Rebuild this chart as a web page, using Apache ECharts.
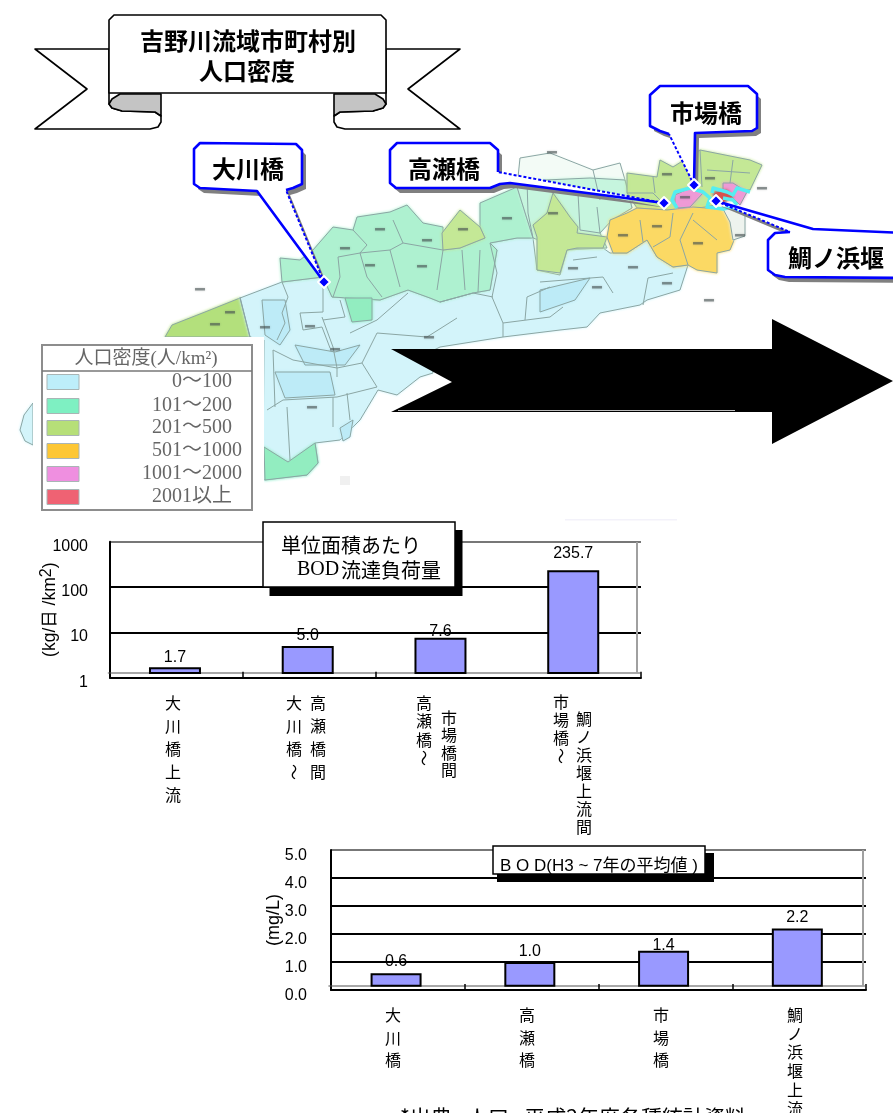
<!DOCTYPE html>
<html lang="ja">
<head>
<meta charset="utf-8">
<title>吉野川流域市町村別人口密度</title>
<script src="https://cdn.jsdelivr.net/npm/echarts@6/dist/echarts.min.js"></script>
<style>
html,body{margin:0;padding:0;background:#fff}
#chart{width:893px;height:1113px}
</style>
</head>
<body>
<div id="chart"></div>
<script>
// 単位面積あたり BOD 流達負荷量
const loadCategories = ['大川橋上流', '大川橋～高瀬橋間', '高瀬橋～市場橋間', '市場橋～鯛ノ浜堰上流間'];
const loadValues = [1.7, 5.0, 7.6, 235.7];
const loadLabelGaps = [2, 2, -2, 9];

// BOD (H3~7年の平均値)
const bodCategories = ['大川橋', '高瀬橋', '市場橋', '鯛ノ浜堰上流'];
const bodValues = [0.6, 1.0, 1.4, 2.2];
const bodLabelGaps = [4, 2, -3, 3];

// 人口密度の凡例
const densityClasses = ['0～100', '101～200', '201～500', '501～1000', '1001～2000', '2001以上'];

const GOTHIC = '"Liberation Sans","Noto Sans CJK JP",sans-serif';
const MINCHO = '"Liberation Serif","Noto Sans CJK JP",serif';
const CJK = '"Noto Sans CJK JP",sans-serif';
const BLUE = '#0000ff';
const SHADOW = '#808080';

const COLOR = {
  low: '#d3f4fa', lowDeep: '#bdebf7', mint: '#aef1d0', mintDeep: '#92edc0', mintPale: '#c6f5de',
  north: '#f3fbf6', olive: '#c4e896', oliveDeep: '#b3e07c', yellow: '#fbd964', pink: '#ee9ad6',
  red: '#d9534f', river: '#55eef0', border: '#8ba6a4'
};

const g = [];
const poly = (points, fill, z, stroke, lineWidth, soft) => g.push({
  type: 'polygon', silent: true, z: z || 1, shape: { points },
  style: {
    fill, stroke: stroke || null, lineWidth: lineWidth || 0, lineJoin: 'round',
    shadowBlur: soft || 0, shadowColor: soft ? fill : null
  }
});
const line = (points, stroke, lineWidth, z, lineDash) => g.push({
  type: 'polyline', silent: true, z: z || 1, shape: { points },
  style: { stroke, lineWidth, fill: null, lineDash: lineDash || null, lineJoin: 'round' }
});
const box = (x, y, width, height, fill, z, stroke, lineWidth, soft) => g.push({
  type: 'rect', silent: true, z: z || 1, shape: { x, y, width, height },
  style: {
    fill, stroke: stroke || null, lineWidth: lineWidth || 0,
    shadowBlur: soft || 0, shadowColor: soft ? fill : null
  }
});
const text = (value, x, y, font, opts) => g.push({
  type: 'text', silent: true, z: (opts && opts.z) || 60, rotation: (opts && opts.rotation) || 0,
  x, y,
  style: {
    text: value, font, fill: (opts && opts.fill) || '#000',
    align: (opts && opts.align) || 'center', verticalAlign: (opts && opts.verticalAlign) || 'middle'
  }
});

// 流域図: 市町村を人口密度の階級で塗り分ける
const mapAreas = [
  [COLOR.low, [[20,430],[24,415],[33,403],[33,445],[25,441]]],
  [COLOR.oliveDeep, [[165,337],[172,325],[205,312],[240,298],[250,337]]],
  [COLOR.low, [[240,298],[282,282],[323,277],[332,297],[380,300],[408,290],[430,298],[440,302],[473,293],[490,290],[497,250],[490,243],[517,238],[533,238],[537,270],[560,275],[567,250],[603,248],[610,253],[627,253],[647,240],[657,257],[673,267],[688,265],[680,290],[647,300],[640,305],[600,313],[587,327],[560,330],[503,337],[440,347],[430,352],[433,373],[420,377],[397,395],[378,390],[360,420],[340,440],[315,443],[318,463],[307,475],[263,480],[264,340],[250,337]]],
  [COLOR.lowDeep, [[262,300],[285,300],[290,330],[280,345],[265,335]]],
  [COLOR.lowDeep, [[295,345],[335,352],[360,345],[345,365],[305,365]]],
  [COLOR.lowDeep, [[275,372],[330,372],[335,395],[285,398]]],
  [COLOR.lowDeep, [[540,290],[590,278],[575,300],[540,312]]],
  [COLOR.lowDeep, [[340,428],[353,420],[350,437],[343,441]]],
  [COLOR.mintDeep, [[264,447],[288,462],[315,443],[318,463],[307,475],[265,480]]],
  [COLOR.north, [[517,187],[520,158],[550,153],[593,170],[620,163],[628,190],[632,208],[612,220],[540,215]]],
  [COLOR.mint, [[282,282],[280,258],[300,260],[313,250],[333,227],[353,230],[357,217],[390,212],[407,205],[423,223],[443,227],[443,250],[460,248],[485,238],[480,227],[480,203],[517,187],[533,238],[517,238],[490,243],[497,250],[490,290],[473,293],[440,302],[430,298],[408,290],[380,300],[332,297],[323,277]]],
  [COLOR.mintDeep, [[345,298],[372,298],[372,320],[352,322]]],
  [COLOR.mintPale, [[517,187],[545,180],[590,178],[625,180],[632,208],[612,220],[600,233],[607,248],[580,248],[567,250],[533,238]]],
  [COLOR.olive, [[442,233],[460,210],[480,227],[485,238],[460,248],[443,250]]],
  [COLOR.olive, [[553,193],[563,207],[570,217],[578,227],[577,233],[607,237],[603,248],[577,248],[567,250],[560,273],[537,270],[537,237],[533,225],[547,213]]],
  [COLOR.olive, [[627,173],[657,177],[660,160],[673,167],[700,150],[750,160],[762,165],[750,190],[730,190],[715,205],[688,210],[667,210],[637,208],[627,193]]],
  [COLOR.yellow, [[610,220],[627,213],[637,208],[667,210],[693,207],[733,210],[737,233],[730,250],[717,253],[717,273],[697,270],[688,265],[673,267],[657,257],[647,240],[627,253],[613,253],[607,237]]],
  ['#eef3ee', [[722,207],[745,212],[745,236],[733,240],[730,222]]],
  [COLOR.pink, [[675,195],[690,188],[703,193],[690,207],[678,208],[675,203]]],
  [COLOR.pink, [[723,183],[733,183],[747,192],[740,205],[733,198],[723,190]]],
  [COLOR.red, [[715,192],[727,190],[733,197],[723,203],[713,195]]]
];
mapAreas.forEach(([fill, pts]) => poly(pts, fill, 1, COLOR.border, 1, 3));

// 市町村界
const mapBorders = [
  [[338,257],[360,253],[390,250],[403,243],[393,220]], [[353,230],[367,245],[360,253]],
  [[338,257],[340,277],[333,297]], [[360,253],[367,277],[382,297]], [[403,243],[443,250]],
  [[390,250],[400,287]], [[443,250],[437,290]],
  [[282,282],[288,297],[282,313],[285,323],[277,340]], [[240,297],[250,337]],
  [[300,313],[323,312],[323,287]], [[300,313],[303,330],[322,327],[330,348]],
  [[323,320],[345,317],[340,300]], [[350,333],[377,320],[408,293]],
  [[273,350],[293,360],[337,368],[362,363],[377,387]], [[377,387],[337,397],[283,400],[267,410]],
  [[337,368],[337,377]], [[273,350],[275,407]], [[333,397],[333,427]], [[347,393],[350,420]],
  [[287,407],[290,460]], [[322,317],[333,347],[337,368]], [[377,333],[362,363]],
  [[377,333],[427,337],[457,318]], [[440,302],[473,293],[493,297]],
  [[490,243],[497,273],[492,297],[503,323],[503,337]], [[503,323],[550,317],[563,307]],
  [[550,287],[527,297],[525,320]], [[540,282],[603,277],[613,293]], [[573,260],[597,257]],
  [[643,305],[648,278],[673,273]], [[527,180],[528,213],[533,238]],
  [[578,193],[580,230],[600,233],[597,207]], [[593,170],[600,200]], [[640,220],[643,242]],
  [[673,213],[670,237],[653,247]], [[693,213],[680,240],[688,265]], [[693,220],[717,240]],
  [[700,150],[702,187]], [[707,170],[750,173]], [[733,160],[730,183]], [[653,177],[655,193]],
  [[627,193],[653,193],[667,207]], [[462,250],[465,290]], [[480,250],[478,292]]
];
mapBorders.forEach(pts => line(pts, COLOR.border, 1, 2));

// 地名の小さな注記
const placeNotes = [
  [200,289],[380,229],[427,240],[345,248],[422,266],[370,265],[310,326],[265,327],[230,312],[215,324],
  [335,349],[463,229],[507,218],[553,213],[623,235],[657,226],[698,243],[573,268],[597,287],[633,267],
  [667,283],[709,300],[685,197],[667,174],[710,178],[552,152],[762,188],[740,235],[312,407],[429,337]
];
placeNotes.forEach(([x, y]) => box(x - 5, y - 1, 10, 2.5, 'rgba(70,80,80,.55)', 2, null, 0, 2));
box(340, 476, 10, 9, '#f0f0f0', 1);
box(565, 519, 112, 1.5, '#f3f2fa', 1);

// 河川の強調線
const riverLines = [
  [[677,208],[672,200],[675,192],[690,188],[703,192],[710,198],[707,207],[723,209],[733,207],[742,212]],
  [[712,193],[713,188],[727,192],[733,195],[737,188],[750,192]],
  [[723,198],[733,200],[737,205]]
];
riverLines.forEach(pts => line(pts, COLOR.river, 3.5, 3));

// 凡例パネル
box(33, 337, 231, 178, '#fff', 5);
box(42, 345, 210, 165, null, 6, '#8d8d8d', 2);
line([[42,371],[252,371]], '#777', 1.5, 6);
text('人口密度(人/km²)', 146, 359, '19px ' + MINCHO, { fill: '#666', z: 7 });
const swatches = ['#bdeefa', '#7ef0c2', '#b6df78', '#fdc734', '#ef8fe0', '#ef6273'];
const swatchRows = [382, 406, 428, 451, 474, 497];
const swatchEdges = [232, 232, 232, 242, 242, 232];
densityClasses.forEach((label, i) => {
  box(47, swatchRows[i] - 7.5, 32, 15, swatches[i], 7, '#a9b5b5', 1);
  text(label, swatchEdges[i], swatchRows[i], '20px ' + MINCHO, { align: 'right', fill: '#666', z: 7 });
});

// 太い矢印
poly([[391,349],[772,349],[772,319],[893,381],[772,444],[772,412],[391,412],[452,382]], '#000', 8);
line([[398,410.5],[735,410.5]], '#bbb', 1, 9);

// タイトルのリボン
const mirror = pts => pts.map(([x, y]) => [495 - x, y]);
const ribbonTail = [[109,49],[35,49],[87,89],[35,129],[150,129],[158,127],[161,122],[161,116],[155,112],[122,111],[112,108],[109,104]];
const ribbonFold = [[109,104],[112,99],[120,94],[161,94],[161,116],[155,112],[122,111],[112,108]];
const ribbonBody = [[114,15],[381,15],[386,20],[386,93],[109,93],[109,20]];
[ribbonTail, mirror(ribbonTail)].forEach(p => poly(p, '#fff', 20, '#000', 1.6));
[ribbonFold, mirror(ribbonFold)].forEach(p => poly(p, '#c4c4c4', 21, '#000', 1.6));
poly(ribbonBody, '#fff', 22, '#000', 1.6);
text('吉野川流域市町村別', 248, 41, 'bold 24px ' + CJK, { z: 23 });
text('人口密度', 247, 71, 'bold 24px ' + CJK, { z: 23 });

// 地点の吹き出し: 先頭が指示点で、先頭から次の頂点までが破線の辺
const callouts = [
  { name: '大川橋', at: [248, 169], outline: [[324,282],[286,190],[293,188],[302,184],[302,150],[296,144],[200,143],[194,149],[194,184],[200,188],[257,191]] },
  { name: '高瀬橋', at: [444, 169], outline: [[664,203],[498,172],[498,150],[490,143],[397,143],[390,150],[390,183],[396,188],[490,188],[500,184],[510,183]] },
  { name: '市場橋', at: [706, 113], outline: [[694,185],[669,134],[660,131],[650,126],[650,95],[660,86],[748,86],[757,94],[757,128],[752,131],[695,133]] },
  { name: '鯛ノ浜堰', at: [836, 258], outline: [[716,201],[790,232],[775,233],[768,240],[768,270],[775,275],[785,277],[905,278],[905,233],[813,229]] }
];
callouts.forEach(c => {
  const pts = c.outline;
  const [tx, ty] = pts[0];
  poly(pts.map(([x, y]) => [x + 4, y + 5]), SHADOW, 30);
  poly(pts, '#fff', 31);
  line([...pts.slice(1), pts[0]], BLUE, 2.6, 32);
  line([pts[0], pts[1]], BLUE, 2, 32, [3, 2]);
  poly([[tx - 6, ty], [tx, ty - 6], [tx + 6, ty], [tx, ty + 6]], BLUE, 34, '#fff', 2);
  text(c.name, c.at[0], c.at[1], 'bold 24px ' + CJK, { z: 35 });
});

// グラフ上の見出し
box(269.5, 530, 193, 66, '#000', 40);
box(263, 522, 192, 65, '#fff', 41, '#000', 1.5);
text('単位面積あたり', 351, 545, '20px ' + CJK, { z: 42 });
text('BOD', 318, 570, '20px "Liberation Serif",serif', { z: 42 });
text('流達負荷量', 391, 570, '20px ' + CJK, { z: 42 });

box(497, 853, 217, 29, '#000', 40);
box(493, 846, 212, 28, '#fff', 41, '#000', 1.5);
text('B O D(H3 ~ 7年の平均値 )', 599, 866, '17px ' + GOTHIC, { z: 42 });

// 3D 風の奥の壁
line([[637,542],[637,673]], '#a0a0a0', 2, 0);
line([[863,850],[863,986]], '#a0a0a0', 2, 0);

// 縦書きの項目名: [中心x, 先頭y, 行送り, 文字列]
const verticalColumns = [
  [173, 703, 23, '大川橋上流'],
  [294, 703, 23, '大川橋～'], [318, 703, 23, '高瀬橋間'],
  [424, 703, 18.3, '高瀬橋～'], [449, 718, 17.3, '市場橋間'],
  [561, 702, 18, '市場橋～'], [584, 719, 18, '鯛ノ浜堰上流間'],
  [393, 1015, 22.5, '大川橋'], [527, 1015, 22.5, '高瀬橋'], [661, 1015, 22.5, '市場橋'],
  [795, 1015, 18.7, '鯛ノ浜堰上流']
];
verticalColumns.forEach(([x, y, step, label]) => {
  Array.from(label).forEach((ch, i) => {
    text(ch, x, y + i * step, '16px ' + CJK, { rotation: ch === '～' ? -Math.PI / 2 : 0, z: 10 });
  });
});

text('*出典 : 人口 : 平成2年度各種統計資料', 573, 1117, '21px ' + CJK, { z: 10 });

const barStyle = { color: '#9999ff', borderColor: '#000', borderWidth: 2 };
const valueLabel = {
  show: true, position: 'top', color: '#000', fontFamily: GOTHIC, fontSize: 16,
  formatter: p => p.value.toFixed(1)
};
const withGaps = (values, gaps) => values.map((value, i) => ({ value, label: { distance: gaps[i] } }));
const blankAxis = { show: false };

const chart = echarts.init(document.getElementById('chart'), null, { renderer: 'canvas' });
chart.setOption({
  animation: false,
  backgroundColor: '#fff',
  grid: [
    { left: 110, top: 541.7, width: 531, height: 136 },
    { left: 108.6, top: 541.7, width: 531, height: 131.3 },
    { left: 331, top: 850, width: 535, height: 140 },
    { left: 329.2, top: 850, width: 535, height: 135.7 }
  ],
  xAxis: [
    { gridIndex: 0, type: 'category', data: loadCategories, axisLabel: { show: false },
      axisLine: { onZero: false, lineStyle: { color: '#000', width: 2 } },
      axisTick: { show: true, inside: true, length: 6, lineStyle: { color: '#000', width: 1.5 }, interval: i => i < 3 } },
    { gridIndex: 1, type: 'category', data: loadCategories, axisLabel: { show: false }, axisTick: { show: false },
      axisLine: { onZero: false, lineStyle: { color: '#a8a8a8', width: 2 } } },
    { gridIndex: 2, type: 'category', data: bodCategories, axisLabel: { show: false },
      axisLine: { onZero: false, lineStyle: { color: '#000', width: 2 } },
      axisTick: { show: true, inside: true, length: 6, lineStyle: { color: '#000', width: 1.5 } } },
    { gridIndex: 3, type: 'category', data: bodCategories, axisLabel: { show: false }, axisTick: { show: false },
      axisLine: { onZero: false, lineStyle: { color: '#a8a8a8', width: 2 } } }
  ],
  yAxis: [
    { gridIndex: 0, type: 'log', logBase: 10, min: 1, max: 1000,
      name: '(kg/日 /km{sup|2})', nameLocation: 'middle', nameRotate: 90, nameGap: 49, nameMoveOverlap: false,
      nameTextStyle: { fontFamily: GOTHIC, fontSize: 17.5, color: '#000', rich: { sup: { fontSize: 16, fontFamily: GOTHIC, color: '#000', verticalAlign: 'top', padding: [0, 0, 6, 0] } } },
      axisLine: { show: true, lineStyle: { color: '#000', width: 2 } },
      axisTick: { show: false },
      axisLabel: { color: '#000', fontFamily: GOTHIC, fontSize: 16, margin: 22, verticalAlign: 'top', lineHeight: 9, formatter: v => String(v) },
      splitLine: { show: true, lineStyle: { color: ['#000', '#000', '#000', '#777'], width: 2 } } },
    { gridIndex: 1, type: 'log', logBase: 10, min: 1.2697, max: 1000, ...blankAxis },
    { gridIndex: 2, type: 'value', min: 0, max: 5, interval: 1,
      name: '(mg/L)', nameLocation: 'middle', nameRotate: 90, nameGap: 48, nameMoveOverlap: false,
      nameTextStyle: { fontFamily: GOTHIC, fontSize: 18, color: '#000' },
      axisLine: { show: true, lineStyle: { color: '#000', width: 2 } },
      axisTick: { show: false },
      axisLabel: { color: '#000', fontFamily: GOTHIC, fontSize: 16, margin: 24, verticalAlign: 'top', lineHeight: 12, formatter: v => v.toFixed(1) },
      splitLine: { show: true, lineStyle: { color: ['#000', '#000', '#000', '#000', '#000', '#777'], width: 2 } } },
    { gridIndex: 3, type: 'value', min: 0.1536, max: 5, ...blankAxis }
  ],
  series: [
    { type: 'bar', name: '単位面積あたりBOD流達負荷量', xAxisIndex: 1, yAxisIndex: 1, barWidth: 52, itemStyle: barStyle, label: valueLabel, data: withGaps(loadValues, loadLabelGaps), z: 3 },
    { type: 'bar', name: 'BOD', xAxisIndex: 3, yAxisIndex: 3, barWidth: 51, itemStyle: barStyle, label: valueLabel, data: withGaps(bodValues, bodLabelGaps), z: 3 }
  ],
  graphic: { elements: g }
});
</script>
</body>
</html>
